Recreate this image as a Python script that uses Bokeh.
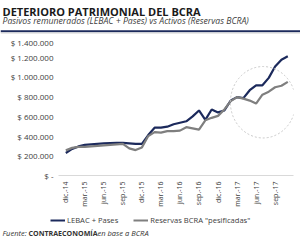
import math
from bokeh.plotting import figure
from bokeh.layouts import column, row
from bokeh.models import ColumnDataSource, FixedTicker, Legend, LegendItem, Range1d
from bokeh.core.properties import value
from bokeh.embed import file_html
from bokeh.resources import INLINE

months = ["dic.-14", "ene.-15", "feb.-15", "mar.-15", "abr.-15", "may.-15", "jun.-15",
          "jul.-15", "ago.-15", "sep.-15", "oct.-15", "nov.-15", "dic.-15", "ene.-16",
          "feb.-16", "mar.-16", "abr.-16", "may.-16", "jun.-16", "jul.-16", "ago.-16",
          "sep.-16", "oct.-16", "nov.-16", "dic.-16", "ene.-17", "feb.-17", "mar.-17",
          "abr.-17", "may.-17", "jun.-17", "jul.-17", "ago.-17", "sep.-17", "oct.-17",
          "nov.-17"]
lebac = [228000, 270000, 295000, 310000, 315000, 320000, 325000, 328000, 330000, 330000,
         325000, 320000, 320000, 410000, 485000, 485000, 495000, 520000, 535000, 550000,
         600000, 660000, 565000, 670000, 640000, 660000, 760000, 795000, 785000, 865000,
         915000, 915000, 990000, 1105000, 1175000, 1210000]
reservas = [255000, 280000, 290000, 290000, 295000, 300000, 305000, 310000, 315000, 320000,
            275000, 258000, 285000, 400000, 440000, 435000, 450000, 450000, 455000, 490000,
            478000, 465000, 560000, 585000, 605000, 670000, 755000, 795000, 780000, 760000,
            730000, 820000, 850000, 895000, 910000, 950000]
y_ticks = [0, 200000, 400000, 600000, 800000, 1000000, 1200000, 1400000]
y_labels = ["$ -", "$ 200.000", "$ 400.000", "$ 600.000", "$ 800.000", "$ 1.000.000",
            "$ 1.200.000", "$ 1.400.000"]
series_names = ["LEBAC + Pases", 'Reservas BCRA "pesificadas"']
title = "DETERIORO PATRIMONIAL DEL BCRA"
subtitle = "Pasivos remunerados (LEBAC + Pases) vs Activos (Reservas BCRA)"
# highlighted region (dashed circle): centre month index, centre value, widths
hl_x, hl_y, hl_w, hl_h = 31.1, 743000, 10.3, 725000

NAVY = "#1c2a5c"
GRAY = "#7f7f7f"
TXT = "#404040"
FONT = "Open Sans"


def blank(h):
    f = figure(width=300, height=h, output_backend="svg", toolbar_location=None,
               x_range=Range1d(0, 300), y_range=Range1d(h, 0), title_location=None,
               min_border=0, min_border_left=0, min_border_right=0,
               min_border_top=0, min_border_bottom=0)
    f.axis.visible = False
    f.grid.visible = False
    f.outline_line_color = None
    return f


# ---- header -------------------------------------------------------------
head = blank(36)
head.text(x=[2], y=[10.5], text=[title], text_font=value(FONT), text_font_style="bold",
          text_font_size="11px", text_color="#1a1a1a", text_baseline="middle")
head.text(x=[2], y=[20.5], text=[subtitle], text_font=value(FONT),
          text_font_style="italic", text_font_size="8.7px", text_color=TXT,
          text_baseline="middle")
head.line(x=[0, 300], y=[30.8, 30.8], line_color=NAVY, line_width=2)
head.line(x=[0, 300], y=[32.6, 32.6], line_color="#d8d8d8", line_width=1)

# ---- main chart ---------------------------------------------------------
x = list(range(len(months)))
src = ColumnDataSource(dict(x=x, lebac=lebac, reservas=reservas))

p = figure(width=300, height=175, output_backend="svg", toolbar_location=None,
           title_location=None,
           x_range=Range1d(-1.15, 35.9), y_range=Range1d(0, 1410000),
           min_border_left=58, min_border_right=7, min_border_top=0, min_border_bottom=36)
p.outline_line_color = None
p.xgrid.visible = False
p.ygrid.visible = False

p.yaxis.ticker = FixedTicker(ticks=y_ticks)
p.yaxis.major_label_overrides = {t: l for t, l in zip(y_ticks, y_labels)}
p.yaxis.axis_line_color = None
p.yaxis.major_tick_line_color = None
p.yaxis.minor_tick_line_color = None
p.yaxis.major_tick_out = 0
p.yaxis.minor_tick_out = 0
p.yaxis.major_label_text_font = FONT
p.yaxis.major_label_text_font_size = "8px"
p.yaxis.major_label_text_color = TXT
p.yaxis.major_label_standoff = 5

qt = list(range(0, len(months), 3))
p.xaxis.ticker = FixedTicker(ticks=qt)
p.xaxis.major_label_overrides = {i: months[i] for i in qt}
p.xaxis.major_label_orientation = math.pi / 2
p.xaxis.axis_line_color = "#d9d9d9"
p.xaxis.major_tick_line_color = None
p.xaxis.minor_tick_line_color = None
p.xaxis.major_tick_out = 0
p.xaxis.minor_tick_out = 0
p.xaxis.major_label_text_font = FONT
p.xaxis.major_label_text_font_size = "7px"
p.xaxis.major_label_text_color = TXT
p.xaxis.major_label_standoff = 6

p.line("x", "lebac", source=src, line_color=NAVY, line_width=2.2)
p.line("x", "reservas", source=src, line_color=GRAY, line_width=2.2)
p.ellipse(x=[hl_x], y=[hl_y], width=[hl_w], height=[hl_h], fill_color=None,
          line_color="#c8c8c8", line_dash="2 2", line_width=1)

# ---- footer: legend + source ---------------------------------------------
foot = blank(30)
# legend swatch renderers (their points lie outside the visible area)
k1 = foot.line(x=[-20, -10], y=[-10, -10], line_color=NAVY, line_width=2)
k2 = foot.line(x=[-20, -10], y=[-10, -10], line_color=GRAY, line_width=2)
legend = Legend(items=[LegendItem(label=series_names[0], renderers=[k1]),
                       LegendItem(label=series_names[1], renderers=[k2])],
                orientation="horizontal", location=(50, 16),
                label_text_font=FONT, label_text_font_size="7.6px",
                label_text_color=TXT, glyph_width=15, glyph_height=10, label_height=10,
                label_standoff=2, spacing=15, padding=0, margin=0,
                border_line_color=None, background_fill_alpha=0)
foot.add_layout(legend)
src_parts = [("Fuente:", "italic", 2, "7.5px"), ("CONTRAECONOMÍA", "bold", 28, "7.1px"),
             ("en base a BCRA", "italic", 97, "7.5px")]
for t, st, xx, fs in src_parts:
    foot.text(x=[xx], y=[21], text=[t], text_font=value(FONT), text_font_style=st,
              text_font_size=fs, text_color="#333333", text_baseline="middle")

layout = column(row(head), row(p), row(foot), spacing=0)
open("out.html", "w").write(file_html(layout, INLINE))
